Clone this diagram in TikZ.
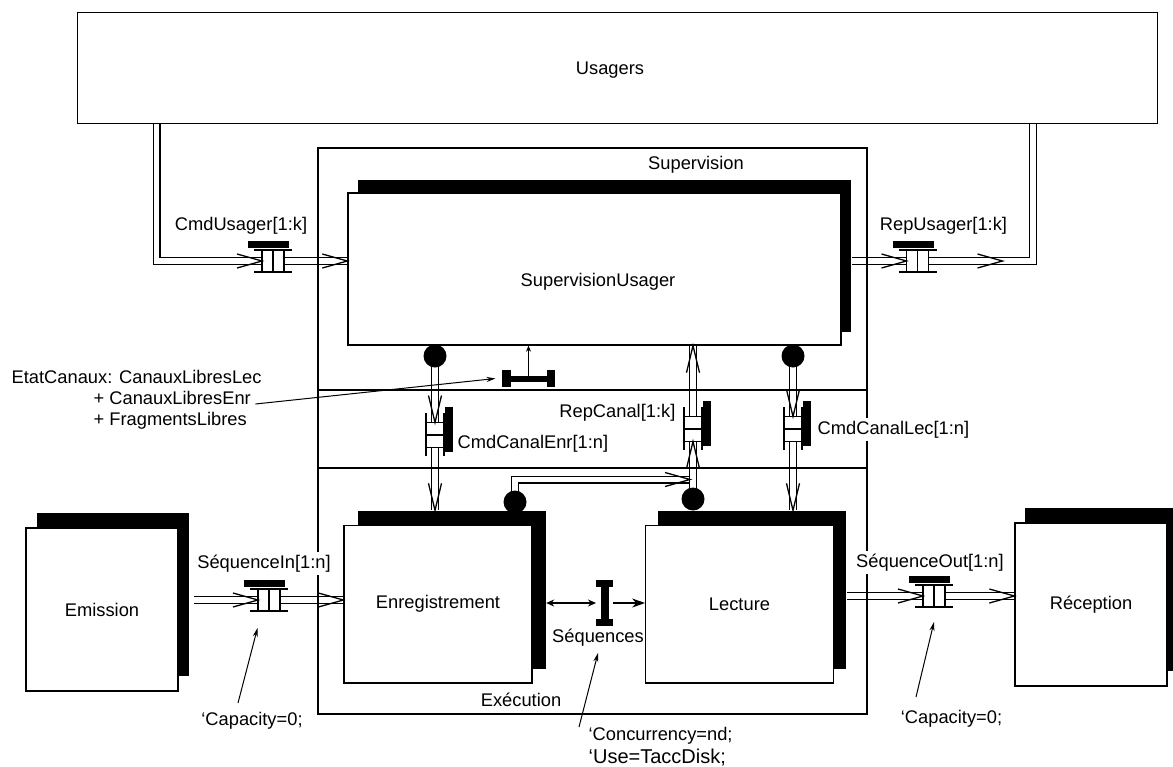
\documentclass[tikz,border=0pt]{standalone}
\usepackage{fontspec}
\setmainfont{Liberation Sans}
\usetikzlibrary{arrows.meta,shadows}
\begin{document}
\begin{tikzpicture}[x=1pt,y=-1pt,line width=1.3pt,
  font=\fontsize{18.3}{22}\selectfont,
  lbl/.style={inner sep=0pt,anchor=base},
  wlbl/.style={inner sep=3pt,anchor=base,fill=white},
  box/.style={draw,fill=white,inner sep=0pt},
  shad/.style 2 args={drop shadow={shadow xshift=#1pt,shadow yshift=#2pt,fill=black,opacity=1}},
  dbl/.style={double=white,double distance=5.4pt,shorten <=0.7pt,shorten >=0.7pt},
  dot/.style={circle,fill,inner sep=0pt,minimum size=23pt},
  lead/.style={line width=1pt,-{Stealth[length=9pt,width=5pt]}},
  hport/.pic={
    \fill (-25,-20) rectangle (16,-13);
    \filldraw[fill=white] (-11,-11) rectangle (11,11);
    \draw (-19,-11) -- (19,-11) (-19,11) -- (19,11) (0,-11) -- (0,11);
  },
  vport/.pic={
    \fill (10,-28) rectangle (17.5,17);
    \filldraw[fill=white] (-9,-12.5) rectangle (9,12.5);
    \draw (-9,-22) -- (-9,21) (9,-22) -- (9,21) (-9,0) -- (9,0);
  },
  arR/.pic={\draw (-25,-7) -- (0,0) -- (-25,7);},
  arD/.pic={\draw (-6.5,-27) -- (0,0) -- (6.5,-27);},
  arU/.pic={\draw (-6.5,27) -- (0,0) -- (6.5,27);},
  ibeam/.pic={\fill (-8.5,-23) rectangle (8.5,-16); \fill (-8.5,16) rectangle (8.5,23); \fill (-4,-23) rectangle (4,23);},
  hbeam/.pic={\fill (-26.5,-8.5) rectangle (-18,8.5); \fill (18,-8.5) rectangle (26.5,8.5); \fill (-26.5,-3) rectangle (26.5,3);}
]
\useasboundingbox (0,0) rectangle (1173,766);

% boxes
\node[inner sep=0pt,minimum width=1079pt,minimum height=110pt] (usagers) at (617.5,68) {};
\node[box,shad={9.5}{13.5},minimum width=493pt,minimum height=152pt] (supu) at (594.5,269) {};
\node[box,shad={13.5}{14.5},minimum width=188pt,minimum height=157.5pt] (enr) at (438,604.25) {Enregistrement};
\node[box,shad={12.5}{14.5},minimum width=187.5pt,minimum height=157.5pt] (lec) at (739.5,604.25) {Lecture};
\node[box,shad={11}{15},minimum width=152pt,minimum height=163pt] (emi) at (102,609.5) {Emission};
\node[box,shad={10}{15},minimum width=152pt,minimum height=163pt] (rec) at (1091,604.5) {Réception};

% reference points
\coordinate (pCU) at (273,261);
\coordinate (pRU) at (917.5,261);
\coordinate (pSI) at (269,600);
\coordinate (pSO) at (934,596);
\coordinate (pCE) at (435,435);
\coordinate (pCL) at (793,429);
\coordinate (pRC) at (693,429);
\coordinate (xCU) at (156.5,0);
\coordinate (xRU) at (1033,0);
\coordinate (kCE) at (435,356);
\coordinate (kCL) at (793,356);
\coordinate (kRC) at (693,499);
\coordinate (kEL) at (515,502);
\coordinate (jRC) at (690,479.5);
\coordinate (enrTop) at ([yshift=14.5pt]enr.north);
\coordinate (lecTop) at ([yshift=14.5pt]lec.north);
\coordinate (supuR) at ([xshift=9.5pt]supu.east);
\coordinate (lecR) at ([xshift=12.5pt]lec.east);
\coordinate (enrR) at ([xshift=13.5pt]enr.east);
\coordinate (emiR) at ([xshift=15pt]emi.east);
\coordinate (seq) at (604.5,603);
\coordinate (ec) at (528.5,378.5);

% double-line channels
\draw[dbl] (usagers.south -| xCU) |- (supu.west |- pCU);
\draw[dbl] (supuR |- pRU) -| (usagers.south -| xRU);
\draw[dbl] (kCE) -- (enrTop -| kCE);
\draw[dbl] (kCL) -- (lecTop -| kCL);
\draw[dbl] (kRC) -- (supu.south -| kRC);
\draw[dbl] (kEL) |- (jRC);
\draw[dbl] (emiR |- pSI) -- (enr.west |- pSI);
\draw[dbl] (lecR |- pSO) -- (rec.west |- pSO);

% dots
\node[dot] (dCE) at (kCE) {};
\node[dot] (dCL) at (kCL) {};
\node[dot] (dRC) at (kRC) {};
\node[dot] (dEL) at (kEL) {};

% ports
\pic at (pCU) {hport};
\pic at (pRU) {hport};
\pic at (pSI) {hport};
\pic at (pSO) {hport};
\pic at (pCE) {vport};
\pic at (pCL) {vport};
\pic at (pRC) {vport};

% open arrowheads
\pic at ([xshift=-11pt]pCU) {arR};
\pic at (supu.west |- pCU) {arR};
\pic at ([xshift=-11pt]pRU) {arR};
\pic at ([xshift=85pt]pRU) {arR};
\pic at ([xshift=-11pt]pSI) {arR};
\pic at (enr.west |- pSI) {arR};
\pic at ([xshift=-11pt]pSO) {arR};
\pic at (rec.west |- pSO) {arR};
\pic at ([yshift=12.5pt]pCE) {arD};
\pic at (enrTop -| kCE) {arD};
\pic at ([yshift=12.5pt]pCL) {arD};
\pic at (lecTop -| kCL) {arD};
\pic at ([yshift=-12.5pt]pRC) {arU};
\pic at (supu.south -| kRC) {arU};
\pic at (jRC) {arR};

% shared data
\draw[{Stealth[length=8pt,width=7pt]}-{Stealth[length=8pt,width=7pt]}] (enrR |- seq) -- ([xshift=-8.5pt]seq);
\draw[-{Stealth[length=13pt,width=9pt]}] ([xshift=8.5pt]seq) -- (lec.west |- seq);
\pic at (seq) {ibeam};
\draw[line width=1pt,-{Stealth[length=6pt,width=5pt]}] (ec) -- (supu.south -| ec);
\pic at (ec) {hbeam};

% outer boxes
\node[draw,inner sep=0pt,minimum width=549pt,minimum height=566pt] (outer) at (592.5,431) {};
\coordinate (div1) at (0,390);
\coordinate (div2) at (0,468);
\draw (outer.west |- div1) -- (outer.east |- div1);
\draw (outer.west |- div2) -- (outer.east |- div2);
\draw (usagers.south west) rectangle (usagers.north east);

% labels
\node[lbl] at (610,74) {Usagers};
\node[lbl] at (696,169) {Supervision};
\node[lbl] at (598,286) {SupervisionUsager};
\node[lbl] at (241,230.5) {CmdUsager[1:k]};
\node[lbl] at (943.5,230) {RepUsager[1:k]};
\node[lbl,anchor=base west] (etat1) at (11,383) {EtatCanaux: CanauxLibresLec};
\node[lbl,anchor=base west] (etat2) at (93,404) {+ CanauxLibresEnr};
\node[lbl,anchor=base west] (etat3) at (93,425) {+ FragmentsLibres};
\node[lbl,anchor=base east] at (676,417) {RepCanal[1:k]};
\node[lbl,anchor=base west] at (457,448) {CmdCanalEnr[1:n]};
\node[wlbl,anchor=base west] at (814,434) {CmdCanalLec[1:n]};
\node[wlbl] at (264,568) {SéquenceIn[1:n]};
\node[wlbl] at (930,567) {SéquenceOut[1:n]};
\node[lbl] (seqlbl) at (598,642.7) {Séquences};
\node[lbl] at (521,706.7) {Exécution};
\node[lbl] (cap1) at (252,725) {‘Capacity=0;};
\node[lbl] (cap2) at (951.5,723.3) {‘Capacity=0;};
\node[lbl,anchor=base west] (conc) at (588,740) {‘Concurrency=nd;};
\node[lbl,anchor=base west,font=\fontsize{20}{22}\selectfont] (use) at (588,763) {‘Use=TaccDisk;};

% leaders
\coordinate (cap1a) at (238,703);
\coordinate (cap1b) at (257.5,628);
\coordinate (cap2a) at (916,697);
\coordinate (cap2b) at (934,622);
\coordinate (conca) at (579,727);
\coordinate (concb) at (598,653);
\draw[lead] ([xshift=4pt]etat2.base east) -- ([xshift=-33pt]ec);
\draw[lead] (cap1a) -- (cap1b);
\draw[lead] (cap2a) -- (cap2b);
\draw[lead] (conca) -- (concb);
\end{tikzpicture}
\end{document}
